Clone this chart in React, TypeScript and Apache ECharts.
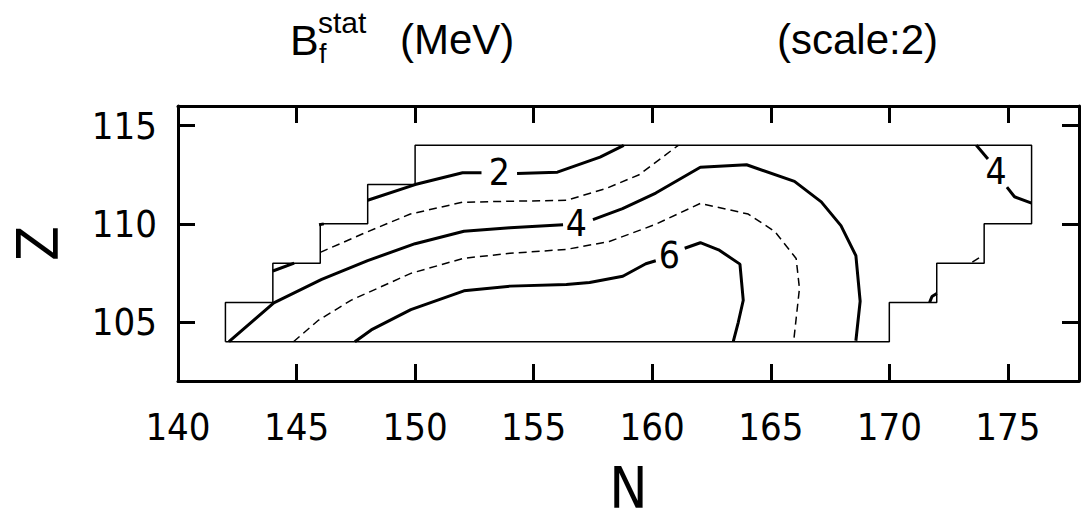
import React, { useEffect, useRef } from "react";
import * as echarts from "echarts";

// Axis ranges (N horizontal, Z vertical)
const nRange = [140, 178];
const zRange = [102, 116];
const tickStep = 5;

// Outline of the calculated region (N, Z)
const boundary = [
  [142, 104], [170, 104], [170, 106], [172, 106], [172, 108], [174, 108],
  [174, 110], [176, 110], [176, 114], [150, 114], [150, 112], [148, 112],
  [148, 110], [146, 110], [146, 108], [144, 108], [144, 106], [142, 106],
  [142, 104],
];

// Contour level 2 MeV (solid)
const level2 = [
  [[144.0, 107.6], [144.9, 108.0]],
  [[145.95, 109.95], [146.15, 110.0]],
  [[148.0, 111.2], [150.0, 112.0], [152.0, 112.6], [152.8, 112.6]],
  [[154.3, 112.56], [156.0, 112.63], [157.8, 113.4], [158.8, 114.0]],
];

// Contour level 3 MeV (dashed)
const level3 = [
  [[146.0, 108.55], [147.9, 109.55], [149.8, 110.5], [152.0, 111.1], [154.0, 111.15],
   [156.4, 111.2], [158.05, 111.8], [159.45, 112.5], [161.1, 114.0]],
  [[173.5, 108.05], [173.95, 108.4]],
];

// Contour level 4 MeV (solid)
const level4 = [
  [[142.15, 104.0], [144.04, 105.98], [146.06, 107.17], [148.0, 108.13], [150.0, 108.99],
   [152.06, 109.62], [154.0, 109.8], [156.24, 109.95]],
  [[157.5, 110.22], [158.75, 110.78], [160.15, 111.57], [162.03, 112.88], [163.98, 113.01],
   [166.0, 112.16], [167.13, 111.12], [167.96, 109.91], [168.59, 108.38], [168.77, 106.06],
   [168.59, 104.05]],
  [[173.67, 114.0], [174.16, 113.3]],
  [[174.96, 111.87], [175.28, 111.38], [176.0, 111.06]],
  [[171.7, 106.0], [171.8, 106.3], [172.0, 106.45]],
];

// Contour level 5 MeV (dashed)
const level5 = [
  [[144.87, 104.0], [145.92, 105.09], [147.31, 106.12], [149.82, 107.48], [152.06, 108.25],
   [154.0, 108.5], [156.38, 108.7], [158.19, 109.1], [160.15, 109.98], [162.03, 111.04],
   [164.05, 110.5], [165.17, 109.61], [166.07, 108.24], [166.21, 106.71], [165.97, 104.07]],
];

// Contour level 6 MeV (solid)
const level6 = [
  [[147.46, 104.0], [148.15, 104.6], [149.82, 105.63], [152.06, 106.59], [154.01, 106.83],
   [156.38, 106.91], [157.36, 107.01], [158.76, 107.33], [159.73, 107.97], [160.15, 108.12]],
  [[161.37, 108.76], [162.03, 109.04], [162.8, 108.68], [163.7, 107.95], [163.84, 106.11],
   [163.63, 104.99], [163.42, 104.02]],
];

// Contour labels
const labelN = [153.55, 156.8, 160.72, 174.5];
const labelZ = [112.62, 110.0, 108.4, 112.68];
const labelText = ["2", "4", "6", "4"];

const NARROW = "'Liberation Sans Narrow', 'DejaVu Sans Condensed', sans-serif";
const SANS = "'Liberation Sans', Arial, sans-serif";

function segSeries(segs: number[][][], dashed: boolean, width: number) {
  return segs.map((seg) => ({
    type: "line",
    data: seg,
    symbol: "none",
    silent: true,
    z: 3,
    lineStyle: { color: "#000", width, type: dashed ? [8, 5] : "solid" },
  }));
}

const tickFmt = (v: number) => (v % tickStep === 0 ? String(v) : "");

export default function App() {
  const ref = useRef<HTMLDivElement>(null);
  useEffect(() => {
    if (!ref.current) return;
    const chart = echarts.init(ref.current, null, { renderer: "svg" });
    const axisCommon = {
      type: "value",
      axisLine: { show: true, onZero: false, lineStyle: { color: "#000", width: 3 } },
      axisTick: { show: true, inside: true, length: 17, lineStyle: { color: "#000", width: 3 } },
      splitLine: { show: false },
    };
    const option = {
      animation: false,
      backgroundColor: "#fff",
      grid: { left: 178, top: 106, width: 910, height: 290, containLabel: false },
      xAxis: [
        {
          ...axisCommon,
          position: "bottom",
          min: nRange[0],
          max: nRange[1],
          interval: tickStep,
          axisLabel: { formatter: tickFmt, color: "#000", fontSize: 38, fontFamily: NARROW, margin: 27 },
          name: "N",
          nameLocation: "middle",
          nameGap: 78,
          nameTextStyle: { color: "#000", fontSize: 57, fontFamily: NARROW },
        },
        {
          ...axisCommon,
          position: "top",
          min: nRange[0],
          max: nRange[1],
          interval: tickStep,
          axisLabel: { show: false },
        },
      ],
      yAxis: [
        {
          ...axisCommon,
          position: "left",
          min: zRange[0],
          max: zRange[1],
          minInterval: tickStep,
          maxInterval: tickStep,
          axisLabel: { formatter: tickFmt, color: "#000", fontSize: 38, fontFamily: NARROW, margin: 21 },
          name: "Z",
          nameLocation: "middle",
          nameGap: 112,
          nameTextStyle: { color: "#000", fontSize: 57, fontFamily: NARROW },
        },
        {
          ...axisCommon,
          position: "right",
          min: zRange[0],
          max: zRange[1],
          minInterval: tickStep,
          maxInterval: tickStep,
          axisLabel: { show: false },
        },
      ],
      graphic: [
        { type: "text", left: 290, top: 18, style: { text: "B", fontSize: 43, fontFamily: SANS, fill: "#000" } },
        { type: "text", left: 318, top: 7, style: { text: "stat", fontSize: 30, fontFamily: SANS, fill: "#000" } },
        { type: "text", left: 319, top: 40, style: { text: "f", fontSize: 27, fontFamily: SANS, fill: "#000" } },
        { type: "text", left: 400, top: 18, style: { text: "(MeV)", fontSize: 42, fontFamily: SANS, fill: "#000" } },
        { type: "text", left: 777, top: 18, style: { text: "(scale:2)", fontSize: 42, fontFamily: SANS, fill: "#000" } },
      ],
      series: [
        {
          type: "line",
          data: boundary,
          symbol: "none",
          silent: true,
          z: 2,
          lineStyle: { color: "#000", width: 1.5 },
        },
        ...segSeries(level2, false, 3),
        ...segSeries(level3, true, 1.5),
        ...segSeries(level4, false, 3),
        ...segSeries(level5, true, 1.5),
        ...segSeries(level6, false, 3),
        {
          type: "scatter",
          symbolSize: 0,
          silent: true,
          z: 5,
          itemStyle: { opacity: 1, color: "#000" },
          data: labelN.map((n, i) => ({ value: [n, labelZ[i]], name: labelText[i] })),
          label: {
            show: true,
            position: "inside",
            formatter: (p: any) => p.name,
            color: "#000",
            opacity: 1,
            textBorderWidth: 0,
            textBorderColor: "transparent",
            fontSize: 37,
            fontFamily: NARROW,
          },
        },
      ],
    };
    chart.setOption(option as any);
    return () => chart.dispose();
  }, []);
  return (
    <div
      ref={ref}
      style={{ position: "absolute", left: 0, top: 0, width: 1082, height: 521, background: "#fff" }}
    />
  );
}
